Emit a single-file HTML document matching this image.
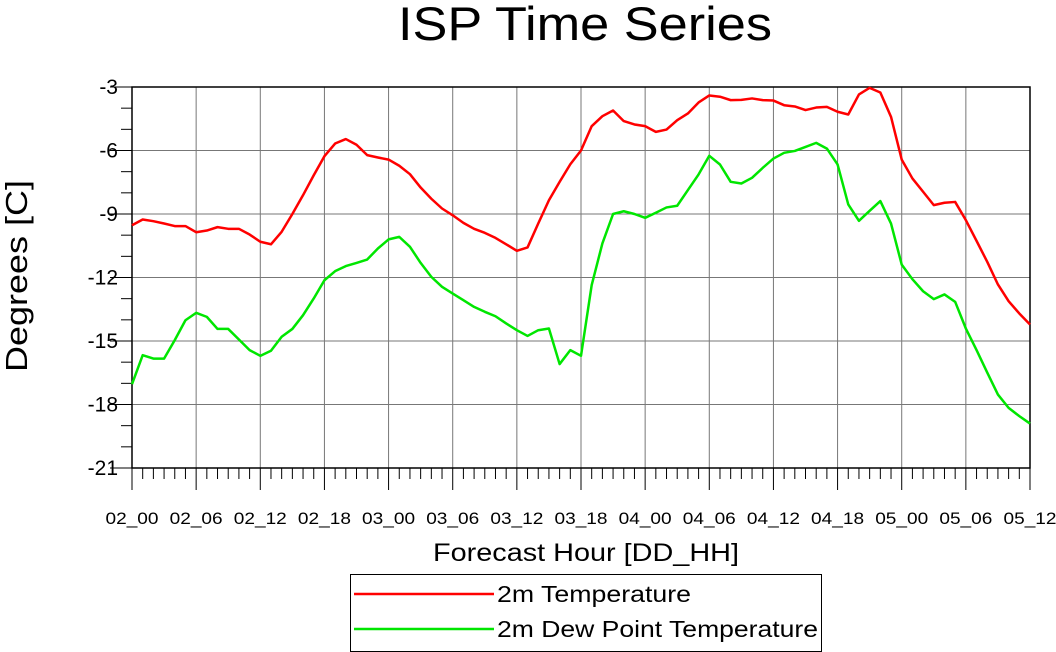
<!DOCTYPE html>
<html><head><meta charset="utf-8"><style>
body{margin:0;background:#fff;}
svg{display:block;font-family:"Liberation Sans",sans-serif;}
</style></head><body>
<svg id="c" width="1056" height="652" xmlns="http://www.w3.org/2000/svg">
<text x="585" y="40" font-size="47" text-anchor="middle" textLength="374" lengthAdjust="spacingAndGlyphs">ISP Time Series</text>
<g id="grid"></g>
<g id="axes"></g>
<g id="series"></g>
<text x="586" y="561" font-size="25" text-anchor="middle" textLength="306" lengthAdjust="spacingAndGlyphs">Forecast Hour [DD_HH]</text>
<text transform="translate(27,276) rotate(-90)" font-size="31" text-anchor="middle" textLength="192" lengthAdjust="spacingAndGlyphs">Degrees [C]</text>
<g>
<rect x="350.5" y="574.5" width="471" height="77" fill="none" stroke="#000" stroke-width="1"/>
<g>
<line x1="354" y1="594" x2="494" y2="594" stroke="#f00" stroke-width="2.5"/>
<text x="497" y="602" font-size="23" textLength="194" lengthAdjust="spacingAndGlyphs">2m Temperature</text></g>
<g>
<line x1="354" y1="629" x2="494" y2="629" stroke="#00e600" stroke-width="2.5"/>
<text x="497" y="637" font-size="23" textLength="321" lengthAdjust="spacingAndGlyphs">2m Dew Point Temperature</text></g>
</g>
</svg>
<script>
const xTickLabels=["02_00","02_06","02_12","02_18","03_00","03_06","03_12","03_18","04_00","04_06","04_12","04_18","05_00","05_06","05_12"];
const yTicks=[-3,-6,-9,-12,-15,-18,-21];
const temperature=[-9.53,-9.26,-9.34,-9.45,-9.57,-9.57,-9.86,-9.78,-9.62,-9.70,-9.70,-9.97,-10.31,-10.43,-9.84,-9.0,-8.11,-7.17,-6.27,-5.67,-5.46,-5.73,-6.22,-6.33,-6.43,-6.72,-7.12,-7.75,-8.28,-8.74,-9.06,-9.42,-9.70,-9.89,-10.13,-10.43,-10.74,-10.58,-9.45,-8.35,-7.48,-6.65,-6.0,-4.85,-4.38,-4.11,-4.61,-4.77,-4.85,-5.12,-5.01,-4.57,-4.25,-3.73,-3.40,-3.46,-3.62,-3.61,-3.54,-3.62,-3.64,-3.86,-3.92,-4.09,-3.97,-3.94,-4.17,-4.30,-3.35,-3.04,-3.26,-4.41,-6.43,-7.32,-7.95,-8.58,-8.47,-8.43,-9.29,-10.27,-11.26,-12.33,-13.12,-13.70,-14.22];
const dewPoint=[-17.04,-15.67,-15.83,-15.83,-14.96,-14.02,-13.67,-13.86,-14.43,-14.43,-14.93,-15.43,-15.70,-15.46,-14.80,-14.43,-13.78,-12.99,-12.13,-11.70,-11.46,-11.31,-11.15,-10.63,-10.20,-10.08,-10.55,-11.31,-11.97,-12.44,-12.76,-13.07,-13.39,-13.62,-13.83,-14.17,-14.49,-14.76,-14.49,-14.41,-16.09,-15.43,-15.70,-12.36,-10.39,-9.0,-8.87,-9.0,-9.18,-8.94,-8.69,-8.61,-7.87,-7.13,-6.25,-6.66,-7.48,-7.56,-7.29,-6.82,-6.38,-6.11,-6.02,-5.83,-5.64,-5.91,-6.66,-8.55,-9.32,-8.85,-8.39,-9.45,-11.39,-12.08,-12.65,-13.02,-12.80,-13.15,-14.41,-15.43,-16.49,-17.53,-18.16,-18.55,-18.90];
const X0=132,X1=1030,Y0=87,Y1=468,HMAX=84,VMAX=-3,VMIN=-21;
const xs=h=>X0+(X1-X0)*h/HMAX;
const ys=v=>Y0+(Y1-Y0)*(VMAX-v)/(VMAX-VMIN);
const NS="http://www.w3.org/2000/svg";
function mk(tag,attrs,parent){const e=document.createElementNS(NS,tag);for(const k in attrs)e.setAttribute(k,attrs[k]);parent.appendChild(e);return e;}
const grid=document.getElementById('grid'),axes=document.getElementById('axes'),series=document.getElementById('series');
xTickLabels.forEach((lab,i)=>{const x=xs(i*6);
 const g=mk('line',{x1:x,y1:Y0,x2:x,y2:Y1,stroke:'#777','stroke-width':1},grid);
 
 const t=mk('line',{x1:x,y1:Y1,x2:x,y2:Y1+22,stroke:'#000','stroke-width':1},axes);
 
 const tx=mk('text',{x:x,y:524,'font-size':17,'text-anchor':'middle',textLength:53,lengthAdjust:'spacingAndGlyphs'},axes);tx.textContent=lab;
 
});
for(let h=0;h<=HMAX;h++){if(h%6==0)continue;const x=xs(h);
 const t=mk('line',{x1:x,y1:Y1,x2:x,y2:Y1+11,stroke:'#000','stroke-width':1},axes);
 }
yTicks.forEach(v=>{const y=ys(v);
 const g=mk('line',{x1:X0,y1:y,x2:X1,y2:y,stroke:'#777','stroke-width':1},grid);
 
 const t=mk('line',{x1:X0-22,y1:y,x2:X0,y2:y,stroke:'#000','stroke-width':1},axes);
 
 const tx=mk('text',{x:118,y:y+7,'font-size':21,'text-anchor':'end'},axes);tx.textContent=v;
 
});
for(let v=VMAX;v>=VMIN;v--){if(v%3==0)continue;const y=ys(v);
 const t=mk('line',{x1:X0-11,y1:y,x2:X0,y2:y,stroke:'#000','stroke-width':1},axes);
 }
const fr=mk('rect',{x:X0,y:Y0,width:X1-X0,height:Y1-Y0,fill:'none',stroke:'#000','stroke-width':1.5},axes);

function line(arr,color,name){const p=mk('polyline',{points:arr.map((v,i)=>xs(i)+','+ys(v)).join(' '),fill:'none',stroke:color,'stroke-width':2.5,'stroke-linejoin':'round'},series);
 }
line(temperature,'#f00','temperature-line');
line(dewPoint,'#00e600','dew-point-line');
</script>
</body></html>
